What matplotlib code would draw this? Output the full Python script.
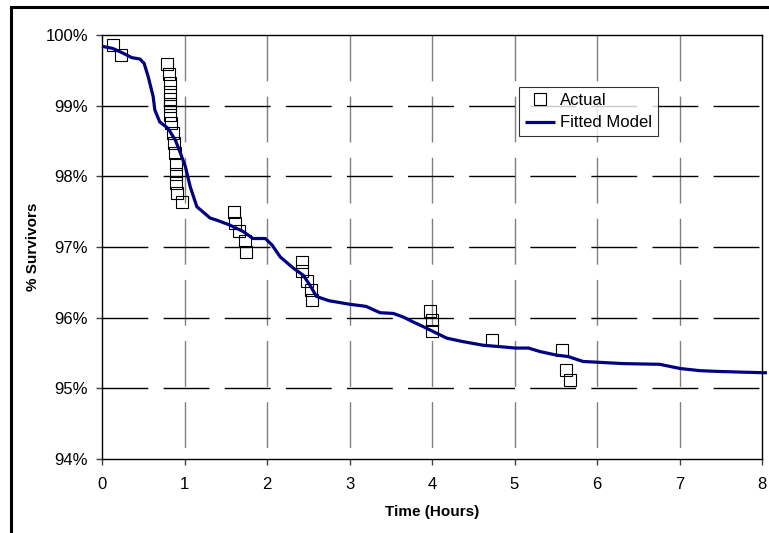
import numpy as np
import matplotlib.pyplot as plt
from matplotlib.patches import Rectangle

plt.rcParams['font.family'] = ['Liberation Sans', 'DejaVu Sans']
plt.rcParams['lines.scale_dashes'] = False

# observed survivors (time in hours, % survivors)
actual_hours = [0.13, 0.23,
                0.79, 0.81, 0.82, 0.82, 0.82, 0.82, 0.82, 0.84, 0.86, 0.87,
                0.89, 0.90, 0.90, 0.90, 0.91, 0.97,
                1.60, 1.61, 1.66, 1.73, 1.75,
                2.43, 2.43, 2.48, 2.53, 2.55,
                3.98, 4.00, 4.00,
                4.73,
                5.58, 5.62, 5.67]
actual_pct = [99.86, 99.72,
              99.59, 99.45, 99.32, 99.20, 99.09, 99.00, 98.87, 98.75, 98.61, 98.47,
              98.33, 98.18, 98.04, 97.90, 97.77, 97.63,
              97.49, 97.34, 97.22, 97.08, 96.93,
              96.79, 96.66, 96.52, 96.39, 96.25,
              96.10, 95.97, 95.81,
              95.68,
              95.54, 95.26, 95.12]

# fitted model curve
model_hours = [0.0, 0.13, 0.26, 0.36, 0.46, 0.51, 0.56, 0.62, 0.64, 0.70,
               0.80, 0.89, 0.95, 1.01, 1.07, 1.15, 1.31, 1.39, 1.55, 1.71,
               1.83, 1.98, 2.06, 2.16, 2.32, 2.44, 2.52, 2.60, 2.75, 3.00,
               3.20, 3.37, 3.53, 3.65, 3.77, 3.90, 4.02, 4.18, 4.38, 4.62,
               4.82, 5.01, 5.17, 5.31, 5.51, 5.65, 5.83, 6.00, 6.32, 6.76,
               7.01, 7.25, 7.45, 7.73, 8.06]
model_pct = [99.84, 99.81, 99.74, 99.68, 99.66, 99.60, 99.41, 99.13, 98.94, 98.77,
             98.68, 98.51, 98.33, 98.14, 97.85, 97.57, 97.41, 97.38, 97.31, 97.22,
             97.12, 97.12, 97.03, 96.86, 96.70, 96.60, 96.46, 96.30, 96.24, 96.19,
             96.16, 96.07, 96.06, 96.01, 95.94, 95.87, 95.80, 95.71, 95.66, 95.61,
             95.59, 95.57, 95.57, 95.52, 95.47, 95.45, 95.38, 95.37, 95.35, 95.34,
             95.28, 95.25, 95.24, 95.23, 95.22]

x_ticks = [0, 1, 2, 3, 4, 5, 6, 7, 8]
y_ticks = [94, 95, 96, 97, 98, 99, 100]
y_tick_labels = [f'{v}%' for v in y_ticks]

fig = plt.figure(figsize=(7.69, 5.33), dpi=100)
fig.patch.set_facecolor('white')
ax = fig.add_axes([102 / 769, 74 / 533, 660 / 769, 424 / 533])

# outer chart frame
fig.add_artist(Rectangle((10.5 / 769, -0.05), 1.1, 1.05 - 6.5 / 533,
                         transform=fig.transFigure, fill=False,
                         edgecolor='black', linewidth=2.2, clip_on=False))

ax.set_xlim(0, 8)
ax.set_ylim(94, 100)

# dashed grid, vertical gray, horizontal black (drawn from top / left)
ax.vlines(x_ticks[1:-1], 100, 94, colors='#808080', linewidth=1,
          linestyles=[(0, (33, 11))], zorder=1)
ax.hlines(y_ticks[1:-1], 0, 8, colors='black', linewidth=1,
          linestyles=[(0, (33, 11))], zorder=1)

ax.plot(actual_hours, actual_pct, linestyle='None', marker='s', markersize=8,
        markerfacecolor='none', markeredgecolor='black', markeredgewidth=0.8,
        label='Actual', zorder=3)
ax.plot(model_hours, model_pct, color='#000080', linewidth=2.3,
        solid_joinstyle='round', solid_capstyle='butt', label='Fitted Model',
        clip_on=False, zorder=4)

ax.set_xticks(x_ticks)
ax.set_yticks(y_ticks)
ax.set_yticklabels(y_tick_labels)
ax.tick_params(axis='both', direction='out', length=4, width=1, labelsize=12,
               color='#404040')
ax.tick_params(axis='y', pad=6)
ax.tick_params(axis='x', pad=9)

for side in ['left', 'bottom', 'top', 'right']:
    ax.spines[side].set_color('black')
    ax.spines[side].set_linewidth(1)

ax.set_xlabel('Time (Hours)', fontsize=11, fontweight='bold', labelpad=9)
ax.set_ylabel('% Survivors', fontsize=11, fontweight='bold', labelpad=4)

leg = ax.legend(loc='upper left', bbox_to_anchor=(0.632, 0.877),
                borderaxespad=0, fontsize=12, frameon=True, fancybox=False,
                handlelength=1.8, handletextpad=0.3, borderpad=0.35,
                labelspacing=0.45)
leg.get_frame().set_edgecolor('black')
leg.get_frame().set_linewidth(0.8)

fig.savefig('out.png', dpi=100)
